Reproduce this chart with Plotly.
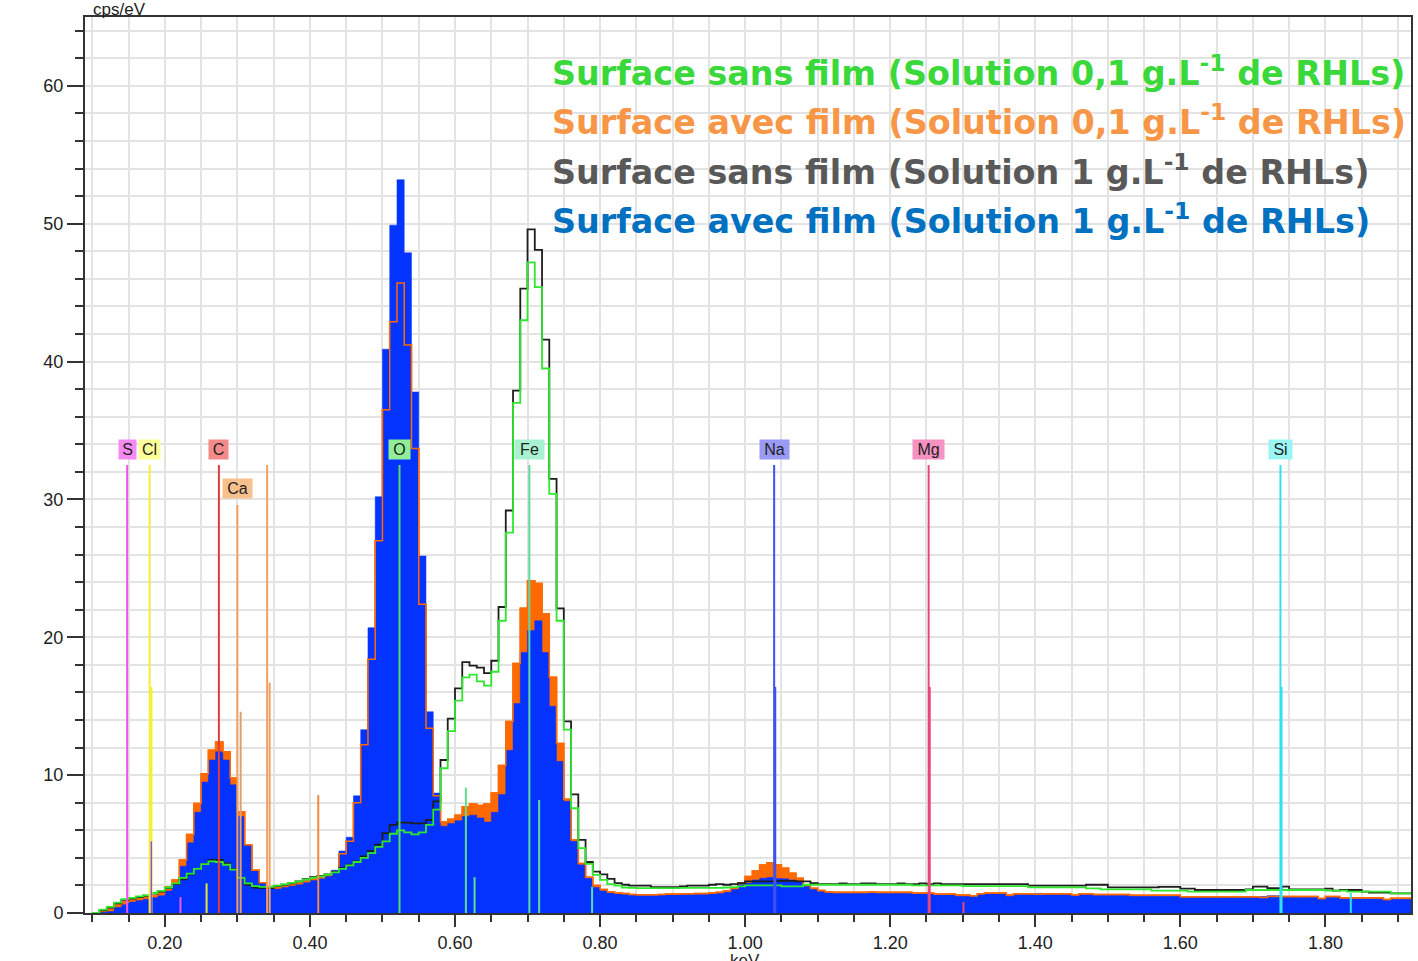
import plotly.graph_objects as go

# ---------------- data (cps/eV per 10 eV channel, channel left edge from 0.10 keV) ----------------
CHANNEL_START_KEV = 0.10
CHANNEL_WIDTH_KEV = 0.01

# Surface sans film (Solution 0,1 g/L) - green line
green_sans_film_01 = [
    0, 0.25, 0.45, 0.75, 1.0, 1.1, 1.2, 1.28, 1.45, 1.6,
    1.85, 2.15, 2.55, 2.85, 3.2, 3.55, 3.75, 3.7, 3.5, 3.15,
    2.55, 2.15, 1.95, 1.9, 1.9, 1.98, 2.08, 2.18, 2.3, 2.42,
    2.55, 2.66, 2.78, 2.95, 3.2, 3.45, 3.7, 4.0, 4.35, 4.8,
    5.2, 5.75, 6.0, 5.85, 5.7, 5.85, 6.4, 7.5, 10.5, 13.2,
    15.4, 17.1, 17.3, 16.8, 16.5, 17.5, 21.2, 27.6, 37.0, 43.0,
    47.2, 45.4, 39.5, 30.4, 21.2, 13.3, 7.6, 4.7, 3.56, 2.76,
    2.4, 2.1, 1.98, 1.85, 1.82, 1.8, 1.8, 1.8, 1.8, 1.8,
    1.8, 1.82, 1.82, 1.82, 1.82, 1.82, 1.82, 1.85, 1.88, 1.93,
    2.0, 2.0, 2.0, 2.0, 2.0, 1.93, 1.93, 1.93, 2.05, 2.05,
    2.05, 2.05, 2.05, 2.05, 2.05, 2.05, 2.05, 2.05, 2.05, 2.05,
    2.05, 2.05, 2.05, 2.0, 2.0, 2.0, 2.0, 2.0, 2.0, 2.0,
    1.95, 1.95, 1.95, 1.95, 1.95, 1.95, 1.95, 1.95, 1.95, 1.86,
    1.86, 1.86, 1.86, 1.86, 1.86, 1.86, 1.86, 1.79, 1.79, 1.72,
    1.72, 1.72, 1.72, 1.72, 1.72, 1.72, 1.62, 1.62, 1.62, 1.62,
    1.62, 1.55, 1.55, 1.55, 1.55, 1.55, 1.55, 1.55, 1.55, 1.67,
    1.67, 1.67, 1.67, 1.67, 1.67, 1.67, 1.67, 1.67, 1.67, 1.67,
    1.62, 1.62, 1.62, 1.55, 1.55, 1.55, 1.55, 1.55, 1.55, 1.43,
    1.43, 1.43,
]

# Surface sans film (Solution 1 g/L) - black line
black_sans_film_1 = [
    0, 0.2, 0.4, 0.7, 0.95, 1.05, 1.15, 1.25, 1.4, 1.55,
    1.8, 2.1, 2.45, 2.8, 3.2, 3.55, 3.85, 3.85, 3.6, 3.2,
    2.55, 2.05, 1.85, 1.8, 1.8, 1.95, 2.05, 2.15, 2.3, 2.45,
    2.6, 2.7, 2.8, 3.0, 3.25, 3.5, 3.75, 4.1, 4.5, 4.95,
    5.8, 6.4, 6.55, 6.55, 6.5, 6.5, 6.75, 8.1, 11.1, 14.1,
    16.3, 18.2, 17.95, 17.8, 17.4, 18.3, 22.2, 29.2, 37.9, 45.3,
    49.6, 48.1, 41.6, 31.5, 22.1, 13.9, 8.6, 5.3, 3.7, 3.0,
    2.8, 2.48, 2.17, 2.05, 1.98, 1.98, 1.98, 1.88, 1.88, 1.88,
    1.88, 1.93, 1.98, 1.98, 1.98, 2.05, 2.1, 2.05, 2.1, 2.17,
    2.29, 2.29, 2.29, 2.29, 2.33, 2.33, 2.33, 2.29, 2.29, 2.17,
    2.1, 2.1, 2.1, 2.15, 2.1, 2.1, 2.15, 2.15, 2.1, 2.1,
    2.1, 2.15, 2.1, 2.1, 2.15, 2.1, 2.15, 2.1, 2.1, 2.1,
    2.1, 2.1, 2.1, 2.1, 2.1, 2.1, 2.1, 2.1, 2.1, 1.98,
    1.98, 1.98, 1.98, 1.98, 1.98, 1.98, 1.98, 2.05, 2.05, 2.05,
    1.86, 1.86, 1.86, 1.86, 1.86, 1.86, 1.86, 1.9, 1.9, 1.9,
    1.77, 1.77, 1.67, 1.67, 1.67, 1.67, 1.67, 1.67, 1.67, 1.72,
    1.91, 1.91, 1.8, 1.8, 1.91, 1.72, 1.72, 1.72, 1.72, 1.72,
    1.77, 1.62, 1.67, 1.67, 1.67, 1.55, 1.48, 1.48, 1.48, 1.43,
    1.43, 1.43,
]

# Surface avec film (Solution 0,1 g/L) - orange
orange_avec_film_01 = [
    0, 0.15, 0.35, 0.6, 0.8, 0.95, 1.05, 1.15, 1.25, 1.45,
    1.9, 2.4, 3.85, 5.7, 7.95, 10.1, 11.8, 12.4, 11.7, 9.8,
    7.35, 4.95, 3.1, 2.2, 1.8, 1.84, 1.94, 2.06, 2.18, 2.3,
    2.44, 2.56, 2.73, 3.0, 4.3, 5.2, 8.0, 12.2, 18.4, 27.0,
    36.5, 42.9, 45.7, 41.2, 33.7, 22.4, 13.4, 8.5, 6.6, 6.8,
    7.1, 7.7, 7.9, 7.8, 7.9, 8.7, 10.7, 13.9, 18.1, 22.1,
    24.1, 23.9, 21.7, 17.1, 12.3, 8.25, 5.3, 3.6, 2.6, 2.0,
    1.7, 1.52, 1.45, 1.42, 1.35, 1.33, 1.33, 1.33, 1.35, 1.38,
    1.38, 1.4, 1.4, 1.42, 1.42, 1.45, 1.5, 1.6, 1.8, 2.17,
    2.64, 3.05, 3.48, 3.65, 3.5, 3.24, 2.88, 2.52, 2.05, 1.8,
    1.64, 1.55, 1.5, 1.5, 1.5, 1.5, 1.5, 1.52, 1.5, 1.5,
    1.5, 1.5, 1.5, 1.45, 1.45, 1.45, 1.38, 1.38, 1.38, 1.3,
    1.3, 1.25, 1.4, 1.45, 1.45, 1.45, 1.3, 1.4, 1.4, 1.4,
    1.36, 1.4, 1.4, 1.4, 1.4, 1.3, 1.4, 1.4, 1.34, 1.34,
    1.34, 1.34, 1.34, 1.29, 1.29, 1.29, 1.29, 1.29, 1.29, 1.29,
    1.18, 1.18, 1.18, 1.18, 1.18, 1.18, 1.18, 1.18, 1.18, 1.18,
    1.18, 1.12, 1.2, 1.2, 1.2, 1.2, 1.2, 1.2, 1.2, 1.06,
    1.2, 1.2, 1.1, 1.1, 1.1, 1.1, 1.1, 1.1, 0.98, 1.07,
    1.07, 1.07,
]

# Surface avec film (Solution 1 g/L) - blue
blue_avec_film_1 = [
    0, 0.05, 0.1, 0.4, 0.6, 0.8, 0.9, 1.0, 1.1, 1.25,
    1.6, 2.1, 3.4, 5.1, 7.3, 9.5, 11.1, 11.7, 11.1, 9.3,
    7.0, 4.9, 3.1, 2.2, 1.75, 1.75, 1.85, 1.95, 2.05, 2.2,
    2.35, 2.5, 2.65, 3.1, 4.5, 5.5, 8.5, 13.3, 20.7, 30.2,
    40.9, 49.9, 53.2, 47.9, 37.8, 25.9, 14.6, 8.7, 6.3, 6.5,
    6.7, 7.0, 7.1, 6.9, 6.6, 7.3, 8.6, 11.8, 15.2, 18.9,
    20.5, 21.2, 18.9, 15.0, 11.0, 8.1, 5.2, 3.5, 2.5, 1.85,
    1.6, 1.45, 1.38, 1.35, 1.28, 1.25, 1.25, 1.25, 1.28, 1.3,
    1.3, 1.32, 1.32, 1.35, 1.35, 1.38, 1.42, 1.5, 1.7, 2.05,
    2.17, 2.4, 2.52, 2.57, 2.5, 2.48, 2.4, 2.29, 1.93, 1.7,
    1.55, 1.45, 1.42, 1.42, 1.42, 1.42, 1.42, 1.45, 1.42, 1.42,
    1.42, 1.42, 1.42, 1.38, 1.38, 1.38, 1.3, 1.3, 1.3, 1.22,
    1.22, 1.18, 1.32, 1.38, 1.38, 1.38, 1.22, 1.32, 1.32, 1.32,
    1.42, 1.32, 1.32, 1.32, 1.32, 1.25, 1.32, 1.32, 1.27, 1.27,
    1.27, 1.27, 1.27, 1.22, 1.22, 1.22, 1.22, 1.22, 1.22, 1.22,
    1.1, 1.1, 1.1, 1.1, 1.1, 1.1, 1.1, 1.1, 1.1, 1.1,
    1.1, 1.2, 1.25, 1.25, 1.12, 1.12, 1.12, 1.12, 1.12, 1.0,
    1.12, 1.12, 1.02, 1.02, 1.02, 1.02, 1.02, 1.02, 0.92, 1.0,
    1.0, 1.0,
]

# Element markers (labelled lines)
element_names = ["S", "Cl", "C", "Ca", "O", "Fe", "Na", "Mg", "Si"]
element_energy = [0.148, 0.179, 0.2745, 0.300, 0.5235, 0.7025, 1.040, 1.253, 1.738]
element_line_top = [32.5, 32.5, 32.5, 29.6, 32.5, 32.5, 32.5, 32.5, 32.5]
element_label_y = [33.6, 33.6, 33.6, 30.8, 33.6, 33.6, 33.6, 33.6, 33.6]

# Secondary (unlabelled) marker lines
minor_energy = [0.1815, 0.181, 0.2215, 0.2575, 0.3045, 0.341, 0.3445, 0.4115,
                0.615, 0.627, 0.716, 0.789, 1.0415, 1.2545, 1.301, 1.7395, 1.835]
minor_top = [16.4, 5.2, 1.15, 2.15, 14.6, 32.5, 16.7, 8.55,
             9.1, 2.6, 8.2, 1.9, 16.4, 16.4, 0.8, 16.4, 1.45]

# ---------------- styles ----------------
element_label_bg = ["#f58af5", "#ffff99", "#f48a8a", "#f8c08c", "#90ee98",
                    "#a8f2d2", "#9a9af5", "#f592c2", "#9af5f5"]
element_line_color = ["#ee55ee", "#f0f030", "#e03c3c", "#f0a060", "#55dd66",
                      "#5fd9a0", "#3f51f0", "#e8467c", "#33e0f0"]
element_label_width = [15, 19, 17, 27, 19, 27, 27, 29, 21]
minor_color = ["#f0f030", "#8a4be8", "#ee55ee", "#e8e830", "#e0a070", "#f0a060", "#f0a060", "#f08a40",
               "#5ee08a", "#5ee08a", "#5fd9a0", "#5fd9a0", "#3f51f0", "#e8467c", "#e8467c", "#33e0f0", "#33e0f0"]

BLUE = "#0433ff"
ORANGE = "#ff6a00"
BLACK = "#1e1e1e"
GREEN = "#2ee82e"
GRID = "#e3e3e3"
AXIS = "#333333"

n = len(blue_avec_film_1)
edges = [round(CHANNEL_START_KEV + i * CHANNEL_WIDTH_KEV, 2) for i in range(n + 1)]


def step(vals):
    return list(vals) + [vals[-1]]


fig = go.Figure()
fig.add_trace(go.Scatter(x=edges, y=step(orange_avec_film_01), mode="lines",
                         line=dict(color=ORANGE, width=1.5, shape="hv"),
                         fill="tozeroy", fillcolor=ORANGE, hoverinfo="skip"))
fig.add_trace(go.Scatter(x=edges, y=step(blue_avec_film_1), mode="lines",
                         line=dict(color=BLUE, width=0.5, shape="hv"),
                         fill="tozeroy", fillcolor=BLUE, hoverinfo="skip"))
fig.add_trace(go.Scatter(x=edges, y=step(orange_avec_film_01), mode="lines",
                         line=dict(color=ORANGE, width=1.5, shape="hv"), hoverinfo="skip"))
fig.add_trace(go.Scatter(x=edges, y=step(black_sans_film_1), mode="lines",
                         line=dict(color=BLACK, width=1.8, shape="hv"), hoverinfo="skip"))
fig.add_trace(go.Scatter(x=edges, y=step(green_sans_film_01), mode="lines",
                         line=dict(color=GREEN, width=1.8, shape="hv"), hoverinfo="skip"))

shapes = []
for e, top, c in zip(minor_energy, minor_top, minor_color):
    shapes.append(dict(type="line", xref="x", yref="y", x0=e, x1=e, y0=0, y1=top,
                       line=dict(color=c, width=2), layer="above"))
for e, top, c in zip(element_energy, element_line_top, element_line_color):
    shapes.append(dict(type="line", xref="x", yref="y", x0=e, x1=e, y0=0, y1=top,
                       line=dict(color=c, width=2), layer="above"))

annotations = []
for name, e, ly, bg, w in zip(element_names, element_energy, element_label_y,
                              element_label_bg, element_label_width):
    annotations.append(dict(x=e, y=ly, xref="x", yref="y", text=name, showarrow=False,
                            bgcolor=bg, borderpad=1, width=w, align="center",
                            font=dict(family="Liberation Sans", size=16, color="#222")))

legend_texts = [
    "Surface sans film (Solution 0,1 g.L<sup>-1</sup> de RHLs)",
    "Surface avec film (Solution 0,1 g.L<sup>-1</sup> de RHLs)",
    "Surface sans film (Solution 1 g.L<sup>-1</sup> de RHLs)",
    "Surface avec film (Solution 1 g.L<sup>-1</sup> de RHLs)",
]
legend_colors = ["#3ad83a", "#f79646", "#595959", "#0070c0"]
legend_y = [61.05, 57.5, 53.9, 50.35]
for t, c, y in zip(legend_texts, legend_colors, legend_y):
    annotations.append(dict(x=0.7305, y=y, xref="x", yref="y", text="<b>" + t + "</b>",
                            showarrow=False, xanchor="left", yanchor="middle",
                            font=dict(family="DejaVu Sans", size=33.4, color=c)))

annotations.append(dict(x=0.0045, y=1.0084, xref="paper", yref="paper", text="cps/eV",
                        showarrow=False, xanchor="left", yanchor="middle",
                        font=dict(family="Liberation Sans", size=17, color="#222")))
annotations.append(dict(x=1.0, y=-0.0535, xref="x", yref="paper", text="keV",
                        showarrow=False, xanchor="center", yanchor="middle",
                        font=dict(family="Liberation Sans", size=17, color="#222")))

fig.update_layout(
    width=1418, height=961,
    margin=dict(l=85, r=5, t=17, b=48),
    paper_bgcolor="white", plot_bgcolor="white",
    showlegend=False,
    shapes=shapes, annotations=annotations,
    xaxis=dict(range=[0.0899, 1.918], tick0=0, dtick=0.2, tickformat=".2f",
               ticks="outside", ticklen=12, tickwidth=2, tickcolor=AXIS,
               showline=True, linecolor=AXIS, linewidth=2, mirror=True,
               showgrid=True, gridcolor=GRID, gridwidth=1.5, zeroline=False,
               ticklabelstandoff=0,
               tickfont=dict(family="Liberation Sans", size=18, color="#222"),
               minor=dict(dtick=0.05, tick0=0, ticks="outside", ticklen=7, tickwidth=2,
                          tickcolor=AXIS, showgrid=True, gridcolor=GRID, gridwidth=1.5)),
    yaxis=dict(range=[0, 65], tick0=0, dtick=10,
               ticks="outside", ticklen=16, tickwidth=2, tickcolor=AXIS,
               showline=True, linecolor=AXIS, linewidth=2, mirror=True,
               showgrid=True, gridcolor=GRID, gridwidth=1.5, zeroline=False,
               tickfont=dict(family="Liberation Sans", size=18, color="#222"),
               minor=dict(dtick=2, tick0=0, ticks="outside", ticklen=8, tickwidth=2,
                          tickcolor=AXIS, showgrid=True, gridcolor=GRID, gridwidth=1.5)),
)

fig.write_html("out.html")
